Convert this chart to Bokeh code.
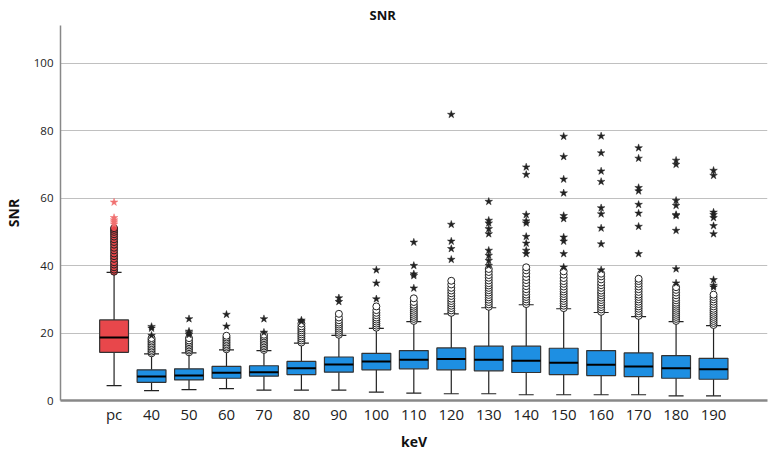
from bokeh.plotting import figure
from bokeh.models import Range1d, FixedTicker, ColumnDataSource
from bokeh.embed import file_html
from bokeh.resources import INLINE

categories = ["pc", "40", "50", "60", "70", "80", "90", "100", "110", "120",
              "130", "140", "150", "160", "170", "180", "190"]
q1 = [14.3, 5.4, 6.1, 6.6, 7.2, 7.7, 8.4, 9.1, 9.4, 9.1, 8.8, 8.3, 7.7, 7.4, 7.1, 6.6, 6.3]
median = [18.7, 7.1, 7.4, 8.2, 8.4, 9.6, 10.7, 11.6, 12.1, 12.3, 12.1, 11.8, 11.2, 10.6, 10.1, 9.6, 9.3]
q3 = [23.9, 9.1, 9.4, 10.1, 10.3, 11.6, 12.9, 14.0, 14.8, 15.6, 16.1, 16.1, 15.5, 14.8, 14.1, 13.3, 12.5]
lower = [4.4, 2.9, 3.2, 3.5, 3.1, 3.1, 3.1, 2.5, 2.2, 2.0, 2.0, 1.7, 1.7, 1.7, 1.7, 1.4, 1.4]
upper = [38.0, 13.8, 14.1, 15.0, 14.8, 17.0, 19.3, 21.4, 23.4, 25.7, 27.5, 28.4, 27.2, 26.1, 24.9, 23.4, 22.2]

circles = {
    "pc": [38.2, 38.8, 39.5, 40.3, 41.0, 42.0, 42.8, 43.6, 44.5, 45.3, 46.2, 47.0, 47.8, 48.6, 49.3, 50.0, 50.6, 51.1],
    "40": [14.0, 14.5, 15.0, 15.5, 16.0, 16.5, 17.0, 17.5, 18.0, 18.5],
    "50": [14.3, 14.8, 15.3, 15.8, 16.3, 16.8, 17.3, 17.8, 18.5],
    "60": [15.2, 15.7, 16.2, 16.7, 17.2, 17.7, 18.2, 18.7, 19.2],
    "70": [15.0, 15.5, 16.0, 16.5, 17.0, 17.5, 18.0, 18.5, 19.0, 19.5],
    "80": [17.2, 17.8, 18.4, 19.0, 19.6, 20.2, 20.8, 21.4, 22.0, 22.8],
    "90": [19.5, 20.1, 20.7, 21.3, 21.9, 22.5, 23.1, 23.8, 24.6, 25.7],
    "100": [21.6, 22.2, 22.8, 23.4, 24.0, 24.6, 25.3, 26.0, 26.8, 27.9],
    "110": [23.6, 24.2, 24.8, 25.4, 26.0, 26.6, 27.2, 27.8, 28.4, 29.2, 30.3],
    "120": [26.0, 26.7, 27.4, 28.1, 28.8, 29.5, 30.2, 31.0, 31.8, 32.6, 33.4, 34.4, 35.5],
    "130": [27.8, 28.5, 29.2, 29.9, 30.6, 31.3, 32.0, 32.7, 33.4, 34.1, 34.8, 35.6, 36.4, 37.2, 38.1, 39.0],
    "140": [28.6, 29.3, 30.0, 30.7, 31.4, 32.2, 33.0, 33.9, 34.8, 35.7, 36.6, 37.6, 38.6, 39.5],
    "150": [27.4, 28.1, 28.8, 29.5, 30.2, 30.9, 31.6, 32.3, 33.0, 33.8, 34.6, 35.4, 36.3, 37.3, 38.3],
    "160": [26.3, 27.0, 27.7, 28.4, 29.1, 29.8, 30.5, 31.2, 31.9, 32.6, 33.4, 34.2, 35.0, 35.9, 36.8, 37.6],
    "170": [25.1, 25.8, 26.5, 27.2, 27.9, 28.6, 29.3, 30.0, 30.7, 31.4, 32.2, 33.0, 33.8, 34.6, 35.4, 36.1],
    "180": [23.6, 24.2, 24.8, 25.4, 26.0, 26.6, 27.2, 27.8, 28.4, 29.0, 29.7, 30.4, 31.2, 32.0, 32.8, 33.6],
    "190": [22.4, 23.0, 23.6, 24.2, 24.8, 25.4, 26.0, 26.6, 27.2, 27.9, 28.6, 29.3, 30.0, 30.7, 31.4],
}
stars = {
    "pc": [52.3, 52.9, 53.5, 54.2, 58.8],
    "40": [19.3, 21.4, 21.9],
    "50": [19.5, 20.0, 20.5, 24.2],
    "60": [22.0, 25.5],
    "70": [20.2, 24.2],
    "80": [23.4, 23.8],
    "90": [29.3, 30.4],
    "100": [30.1, 34.8, 38.7],
    "110": [33.3, 37.0, 37.5, 40.0, 46.9],
    "120": [41.8, 45.0, 47.2, 52.2, 84.8],
    "130": [40.0, 41.5, 43.0, 44.5, 49.4, 50.9, 52.6, 53.4, 59.0],
    "140": [43.5, 44.5, 46.6, 48.6, 52.6, 53.2, 55.1, 67.0, 69.2],
    "150": [39.5, 43.5, 47.2, 48.4, 53.9, 54.8, 61.5, 65.6, 72.3, 78.3],
    "160": [38.7, 46.4, 51.1, 55.3, 57.1, 64.9, 68.0, 73.4, 78.4],
    "170": [43.5, 51.6, 55.5, 58.1, 62.1, 63.1, 71.8, 74.9],
    "180": [34.8, 39.0, 50.4, 54.8, 55.1, 57.8, 59.3, 70.0, 71.2],
    "190": [33.6, 34.1, 35.8, 49.4, 51.8, 54.2, 55.1, 55.8, 66.7, 68.2],
}
y_ticks = [0, 20, 40, 60, 80, 100]

RED = "#E8474B"
BLUE = "#1E8FE2"
FONT = "Open Sans"

idx = list(range(len(categories)))
colors = [RED if c == "pc" else BLUE for c in categories]
src = ColumnDataSource(dict(x=idx, q1=q1, q3=q3, med=median, lo=lower, up=upper, color=colors))

p = figure(width=779, height=455, output_backend="svg", toolbar_location=None,
           x_range=Range1d(-1.43, 17.44), y_range=Range1d(0, 111.2),
           min_border_left=59, min_border_right=12, min_border_top=25, min_border_bottom=55,
           title="SNR")
p.title.align = "left"
p.title.offset = 309
p.title.standoff = 3
p.title.text_font = FONT
p.title.text_font_size = "13px"
p.title.text_font_style = "bold"
p.title.text_color = "#111111"
p.outline_line_color = None
p.background_fill_color = "white"

p.xgrid.visible = False
p.ygrid.grid_line_color = "#c0c0c0"
p.ygrid.grid_line_width = 1
p.ygrid.ticker = FixedTicker(ticks=y_ticks)

p.yaxis.ticker = FixedTicker(ticks=y_ticks)
p.xaxis.ticker = FixedTicker(ticks=idx)
p.xaxis.major_label_overrides = {i: c for i, c in enumerate(categories)}
for ax in (p.xaxis[0], p.yaxis[0]):
    ax.major_tick_line_color = None
    ax.minor_tick_line_color = None
    ax.axis_label_text_font = FONT
    ax.axis_label_text_font_style = "bold"
    ax.axis_label_text_font_size = "14px"
    ax.axis_label_text_color = "#111111"
    ax.major_label_text_font = FONT
    ax.major_label_text_color = "#222222"
    ax.axis_line_color = "#888888"
p.xaxis.axis_line_width = 2.5
p.yaxis.axis_line_width = 1.5
p.xaxis.axis_label = "keV"
p.yaxis.axis_label = "SNR"
p.xaxis.major_label_text_font_size = "15px"
p.yaxis.major_label_text_font_size = "11.5px"
p.xaxis.major_label_standoff = -3
p.yaxis.major_label_standoff = 1
p.xaxis.axis_label_standoff = 5
p.yaxis.axis_label_standoff = 8

# whiskers
p.segment(x0="x", y0="q3", x1="x", y1="up", source=src, line_color="#222222", line_width=1.2)
p.segment(x0="x", y0="q1", x1="x", y1="lo", source=src, line_color="#222222", line_width=1.2)
cap_l = [i - 0.2 for i in idx]
cap_r = [i + 0.2 for i in idx]
p.segment(x0=cap_l, y0=upper, x1=cap_r, y1=upper, line_color="#222222", line_width=1.2)
p.segment(x0=cap_l, y0=lower, x1=cap_r, y1=lower, line_color="#222222", line_width=1.2)

# boxes
p.vbar(x="x", top="q3", bottom="q1", width=0.77, source=src, fill_color="color",
       line_color="#333333", line_width=1.2)
med_l = [i - 0.385 for i in idx]
med_r = [i + 0.385 for i in idx]
p.segment(x0=med_l, y0=median, x1=med_r, y1=median, line_color="black", line_width=2)

# outliers
cx, cy, cf = [], [], []
for i, c in enumerate(categories):
    for v in circles[c]:
        cx.append(i)
        cy.append(v)
        cf.append(RED if c == "pc" else "white")
p.scatter(x=cx, y=cy, marker="circle", size=7, fill_color=cf, line_color="#222222", line_width=1)

sx, sy, sc = [], [], []
for i, c in enumerate(categories):
    for v in stars[c]:
        sx.append(i)
        sy.append(v)
        sc.append("#F07070" if c == "pc" else "#222222")
p.scatter(x=sx, y=sy, marker="star", size=8, fill_color=sc, line_color=sc, line_width=0.5)

open("out.html", "w").write(file_html(p, INLINE))
